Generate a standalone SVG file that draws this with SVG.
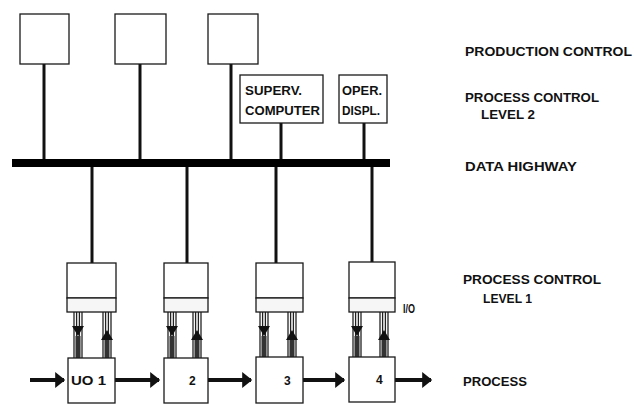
<svg xmlns="http://www.w3.org/2000/svg" xmlns:xlink="http://www.w3.org/1999/xlink" width="634" height="406" viewBox="0 0 634 406">
<style>
.box{fill:#fff;stroke:#1a1a1a;stroke-width:1.3}
.band{fill:#f6f6f6;stroke:#1a1a1a;stroke-width:1.3}
.conn{stroke:#111;stroke-width:3;fill:none}
.bus{stroke:#000;stroke-width:8;fill:none}
.flow{stroke:#111;stroke-width:4;fill:none}
.lbl{font-family:"Liberation Sans",Arial,sans-serif;font-weight:bold;font-size:13px;fill:#111}
.in{font-family:"Liberation Sans",Arial,sans-serif;font-weight:bold;font-size:12px;fill:#111}
.thin{stroke:#222;stroke-width:1.3}
</style>
<defs>
<marker id="ah" markerWidth="4" markerHeight="4" refX="2.2" refY="2" orient="auto" markerUnits="strokeWidth">
<path d="M0,0 L2.5,2 L0,4 z" fill="#111"/>
</marker>
<g id="down">
<line class="thin" x1="-4" y1="0" x2="-4" y2="46"/>
<line class="thin" x1="-1.4" y1="0" x2="-1.4" y2="46"/>
<line class="thin" x1="1.4" y1="0" x2="1.4" y2="46"/>
<line class="thin" x1="4" y1="0" x2="4" y2="46"/>
<path d="M-6,14 L6,14 L0,24 z" fill="#111"/>
<rect x="-2.5" y="24" width="5" height="22" fill="#333"/>
</g>
<g id="up">
<line class="thin" x1="-4" y1="0" x2="-4" y2="46"/>
<line class="thin" x1="-1.4" y1="0" x2="-1.4" y2="46"/>
<line class="thin" x1="1.4" y1="0" x2="1.4" y2="46"/>
<line class="thin" x1="4" y1="0" x2="4" y2="46"/>
<path d="M-6,28 L6,28 L0,18 z" fill="#111"/>
<rect x="-2.5" y="28" width="5" height="18" fill="#333"/>
</g>
</defs>

<g id="connectors">
<line class="conn" x1="44" y1="64" x2="44" y2="163"/>
<line class="conn" x1="140" y1="64" x2="140" y2="163"/>
<line class="conn" x1="231" y1="64" x2="231" y2="163"/>
<line class="conn" x1="281" y1="123" x2="281" y2="163"/>
<line class="conn" x1="364" y1="123" x2="364" y2="163"/>
<line class="conn" x1="92" y1="163" x2="92" y2="263"/>
<line class="conn" x1="187" y1="163" x2="187" y2="263"/>
<line class="conn" x1="276" y1="163" x2="276" y2="263"/>
<line class="conn" x1="372" y1="163" x2="372" y2="263"/>
<line id="data-highway" class="bus" x1="12" y1="163" x2="390" y2="163"/>
<use xlink:href="#down" x="78" y="312"/>
<use xlink:href="#up" x="107" y="312"/>
<use xlink:href="#down" x="172" y="312"/>
<use xlink:href="#up" x="197" y="312"/>
<use xlink:href="#down" x="264" y="312"/>
<use xlink:href="#up" x="292" y="312"/>
<use xlink:href="#down" x="357" y="312"/>
<use xlink:href="#up" x="384" y="312"/>
<line class="flow" x1="30" y1="380" x2="64" y2="380" marker-end="url(#ah)"/>
<line class="flow" x1="115" y1="380" x2="159" y2="380" marker-end="url(#ah)"/>
<line class="flow" x1="208" y1="380" x2="251" y2="380" marker-end="url(#ah)"/>
<line class="flow" x1="303" y1="380" x2="344" y2="380" marker-end="url(#ah)"/>
<line class="flow" x1="395" y1="380" x2="431" y2="380" marker-end="url(#ah)"/>
</g>

<g id="prod1"><rect class="box" x="20" y="14" width="49" height="50"/></g>
<g id="prod2"><rect class="box" x="115" y="14" width="51" height="50"/></g>
<g id="prod3"><rect class="box" x="208" y="14" width="50" height="50"/></g>

<g id="superv"><rect class="box" x="240" y="75" width="83" height="48"/>
<text class="in" x="245" y="95" textLength="57" lengthAdjust="spacingAndGlyphs">SUPERV.</text>
<text class="in" x="245" y="115" textLength="75" lengthAdjust="spacingAndGlyphs">COMPUTER</text></g>
<g id="operdispl"><rect class="box" x="339" y="75" width="48" height="48"/>
<text class="in" x="342" y="95" textLength="40" lengthAdjust="spacingAndGlyphs">OPER.</text>
<text class="in" x="342" y="115" textLength="38" lengthAdjust="spacingAndGlyphs">DISPL.</text></g>

<g id="ctrl1"><rect class="box" x="67" y="263" width="49" height="35"/><rect class="band" x="67" y="298" width="49" height="14"/></g>
<g id="ctrl2"><rect class="box" x="164" y="263" width="44" height="35"/><rect class="band" x="164" y="298" width="44" height="14"/></g>
<g id="ctrl3"><rect class="box" x="256" y="263" width="47" height="35"/><rect class="band" x="256" y="298" width="47" height="14"/></g>
<g id="ctrl4"><rect class="box" x="349" y="262" width="46" height="36"/><rect class="band" x="349" y="298" width="46" height="14"/></g>

<g id="uo1"><rect class="box" x="68" y="358" width="47" height="45"/>
<text class="in" x="71" y="385" textLength="35" lengthAdjust="spacingAndGlyphs">UO 1</text></g>
<g id="uo2"><rect class="box" x="164" y="358" width="44" height="45"/>
<text class="in" x="189" y="385">2</text></g>
<g id="uo3"><rect class="box" x="256" y="357" width="47" height="46"/>
<text class="in" x="284" y="385">3</text></g>
<g id="uo4"><rect class="box" x="349" y="357" width="46" height="45"/>
<text class="in" x="376" y="384">4</text></g>

<text class="in" x="403" y="313" font-size="11" textLength="12" lengthAdjust="spacingAndGlyphs">I/O</text>

<g id="labels">
<text class="lbl" x="465" y="56" textLength="167" lengthAdjust="spacingAndGlyphs">PRODUCTION CONTROL</text>
<text class="lbl" x="465" y="102" textLength="134" lengthAdjust="spacingAndGlyphs">PROCESS CONTROL</text>
<text class="lbl" x="481" y="119" textLength="54" lengthAdjust="spacingAndGlyphs">LEVEL 2</text>
<text class="lbl" x="465" y="171" textLength="112" lengthAdjust="spacingAndGlyphs">DATA HIGHWAY</text>
<text class="lbl" x="463" y="284" textLength="138" lengthAdjust="spacingAndGlyphs">PROCESS CONTROL</text>
<text class="lbl" x="483" y="303" textLength="49" lengthAdjust="spacingAndGlyphs">LEVEL 1</text>
<text class="lbl" x="463" y="386" textLength="64" lengthAdjust="spacingAndGlyphs">PROCESS</text>
</g>
</svg>
